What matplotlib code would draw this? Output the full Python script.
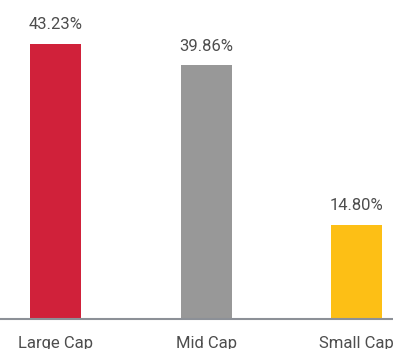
import matplotlib.pyplot as plt

categories = ["Large Cap", "Mid Cap", "Small Cap"]
shares = [43.23, 39.86, 14.80]
colors = ["#D0213A", "#989898", "#FDBF15"]

fig = plt.figure(figsize=(3.93, 3.49), dpi=100)
ax = fig.add_axes([0, 30 / 349, 1, 319 / 349])

x = range(len(categories))
bars = ax.bar(x, shares, width=51 / 150.5, color=colors)

for bar, share in zip(bars, shares):
    ax.annotate("{:.2f}%".format(share), (bar.get_x() + bar.get_width() / 2, bar.get_height()),
                xytext=(0, 8.5), textcoords="offset points", ha="center", va="bottom",
                fontsize=12, color="#4d4d4d", family="Roboto")

ax.set_xlim(-55.5 / 150.5, (393 - 55.5) / 150.5)
ax.set_ylim(0, 319 / 6.36)
ax.set_xticks(list(x))
ax.set_xticklabels(categories, fontsize=12, color="#4d4d4d", family="Roboto")
ax.tick_params(axis="x", length=0, pad=12)
ax.set_yticks([])
for side in ["top", "right", "left"]:
    ax.spines[side].set_visible(False)
ax.spines["bottom"].set_color("#8c9097")
ax.spines["bottom"].set_linewidth(1.5)

fig.savefig("out.png", dpi=100)
